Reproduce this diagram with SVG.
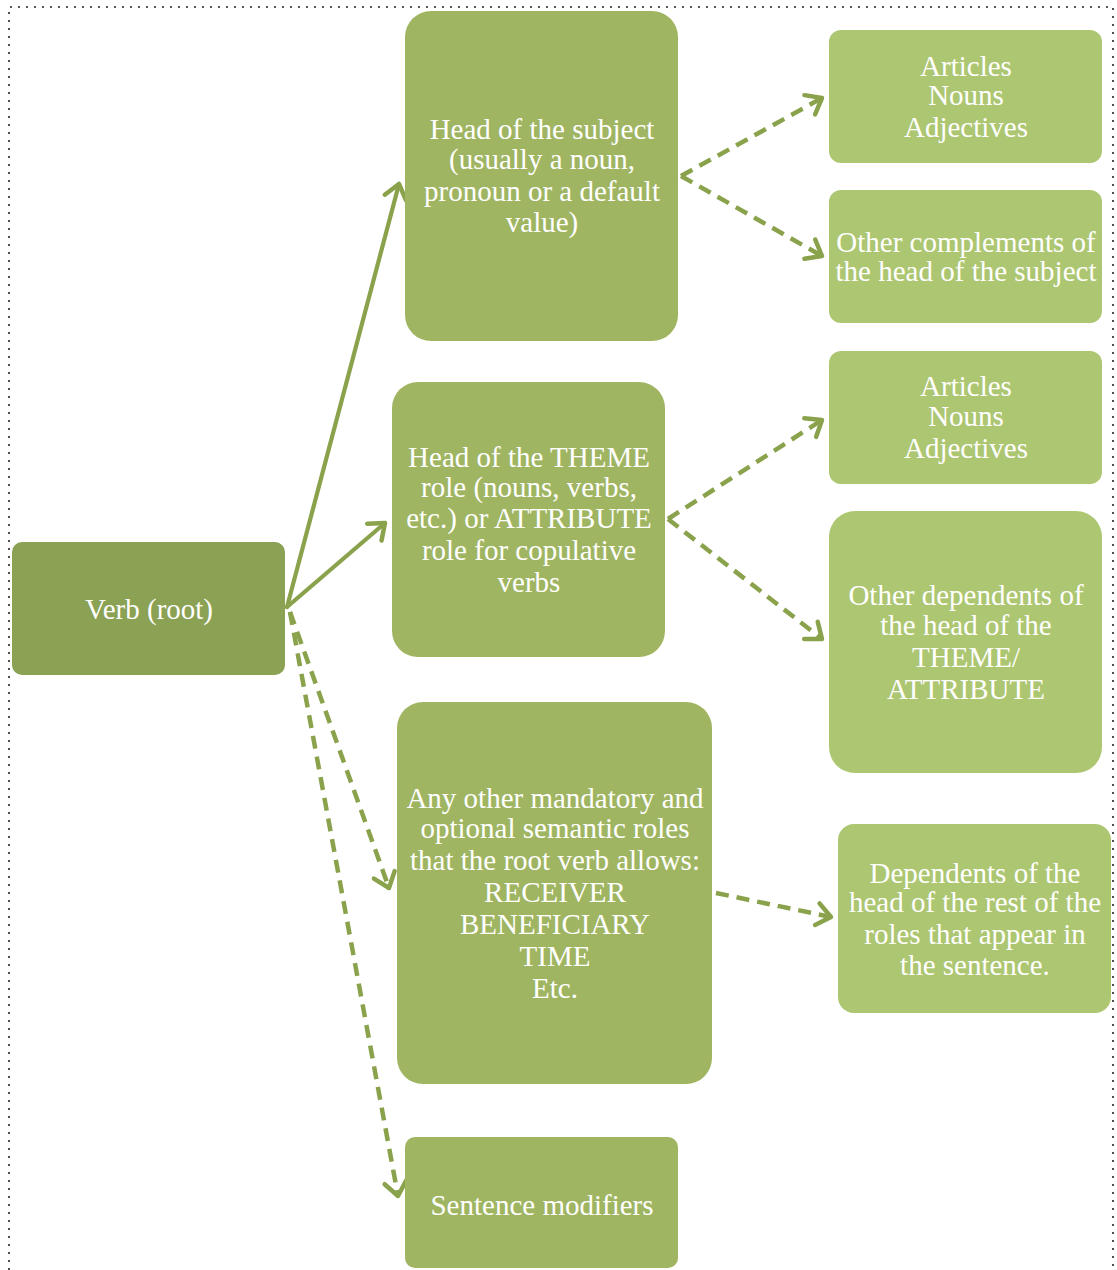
<svg xmlns="http://www.w3.org/2000/svg" width="1117" height="1270" viewBox="0 0 1117 1270">
  <defs>
    <style>
      .frame { fill: none; stroke: #222; stroke-width: 1.6; stroke-dasharray: 2 6; }
      .root { fill: #8BA153; }
      .mid { fill: #A0B562; }
      .leaf { fill: #ADC671; }
      .lbl { font-family: "Liberation Serif", "Times New Roman", serif; font-size: 29px; fill: #ffffff; text-anchor: middle; }
      .solid { fill: none; stroke: #8AA24B; stroke-width: 4.2; stroke-linecap: round; }
      .dash { fill: none; stroke: #8AA24B; stroke-width: 4.5; stroke-dasharray: 13 8; }
    </style>
    <marker id="head" viewBox="0 0 28 28" refX="22" refY="14" markerWidth="28" markerHeight="28" markerUnits="userSpaceOnUse" orient="auto">
      <path d="M8 3 L22 14 L8 25" fill="none" stroke="#8AA24B" stroke-width="4.5" stroke-linecap="round" stroke-linejoin="round"/>
    </marker>
  </defs>

  <!-- dotted page frame -->
  <path class="frame" d="M9 1270 V7 H1113 V1270"/>

  <!-- connectors -->
  <g id="connectors">
    <line class="solid" x1="287" y1="607" x2="399" y2="184" marker-end="url(#head)"/>
    <line class="solid" x1="287" y1="607" x2="385" y2="523" marker-end="url(#head)"/>
    <line class="dash" x1="290" y1="612" x2="389" y2="888" marker-end="url(#head)"/>
    <line class="dash" x1="290" y1="612" x2="398" y2="1196" marker-end="url(#head)"/>
    <line class="dash" x1="681" y1="176" x2="822" y2="98" marker-end="url(#head)"/>
    <line class="dash" x1="681" y1="176" x2="822" y2="256" marker-end="url(#head)"/>
    <line class="dash" x1="668" y1="519" x2="822" y2="420" marker-end="url(#head)"/>
    <line class="dash" x1="668" y1="519" x2="822" y2="639" marker-end="url(#head)"/>
    <line class="dash" x1="716" y1="893" x2="831" y2="917" marker-end="url(#head)"/>
  </g>

  <!-- nodes -->
  <g id="verb-root">
    <rect class="root" x="12" y="542" width="273" height="133" rx="10"/>
    <text class="lbl" x="149" y="619">Verb (root)</text>
  </g>

  <g id="subject-head">
    <rect class="mid" x="405" y="11" width="273" height="330" rx="26"/>
    <text class="lbl" x="542" y="139">Head of the subject</text>
    <text class="lbl" x="542" y="169">(usually a noun,</text>
    <text class="lbl" x="542" y="201">pronoun or a default</text>
    <text class="lbl" x="542" y="232">value)</text>
  </g>

  <g id="theme-head">
    <rect class="mid" x="392" y="382" width="273" height="275" rx="26"/>
    <text class="lbl" x="529" y="467">Head of the THEME</text>
    <text class="lbl" x="529" y="497">role (nouns, verbs,</text>
    <text class="lbl" x="529" y="528">etc.) or ATTRIBUTE</text>
    <text class="lbl" x="529" y="560">role for copulative</text>
    <text class="lbl" x="529" y="592">verbs</text>
  </g>

  <g id="other-roles">
    <rect class="mid" x="397" y="702" width="315" height="382" rx="26"/>
    <text class="lbl" x="555" y="808">Any other mandatory and</text>
    <text class="lbl" x="555" y="838">optional semantic roles</text>
    <text class="lbl" x="555" y="870">that the root verb allows:</text>
    <text class="lbl" x="555" y="902">RECEIVER</text>
    <text class="lbl" x="555" y="934">BENEFICIARY</text>
    <text class="lbl" x="555" y="966">TIME</text>
    <text class="lbl" x="555" y="998">Etc.</text>
  </g>

  <g id="sentence-modifiers">
    <rect class="mid" x="405" y="1137" width="273" height="131" rx="10"/>
    <text class="lbl" x="542" y="1215">Sentence modifiers</text>
  </g>

  <g id="subject-modifiers">
    <rect class="leaf" x="829" y="30" width="273" height="133" rx="12"/>
    <text class="lbl" x="966" y="76">Articles</text>
    <text class="lbl" x="966" y="105">Nouns</text>
    <text class="lbl" x="966" y="137">Adjectives</text>
  </g>

  <g id="subject-complements">
    <rect class="leaf" x="829" y="190" width="273" height="133" rx="12"/>
    <text class="lbl" x="966" y="252">Other complements of</text>
    <text class="lbl" x="966" y="281">the head of the subject</text>
  </g>

  <g id="theme-modifiers">
    <rect class="leaf" x="829" y="351" width="273" height="133" rx="12"/>
    <text class="lbl" x="966" y="396">Articles</text>
    <text class="lbl" x="966" y="426">Nouns</text>
    <text class="lbl" x="966" y="458">Adjectives</text>
  </g>

  <g id="theme-dependents">
    <rect class="leaf" x="829" y="511" width="273" height="262" rx="26"/>
    <text class="lbl" x="966" y="605">Other dependents of</text>
    <text class="lbl" x="966" y="635">the head of the</text>
    <text class="lbl" x="966" y="667">THEME/</text>
    <text class="lbl" x="966" y="699">ATTRIBUTE</text>
  </g>

  <g id="role-dependents">
    <rect class="leaf" x="838" y="824" width="273" height="189" rx="16"/>
    <text class="lbl" x="975" y="883">Dependents of the</text>
    <text class="lbl" x="975" y="912">head of the rest of the</text>
    <text class="lbl" x="975" y="944">roles that appear in</text>
    <text class="lbl" x="975" y="975">the sentence.</text>
  </g>
</svg>
